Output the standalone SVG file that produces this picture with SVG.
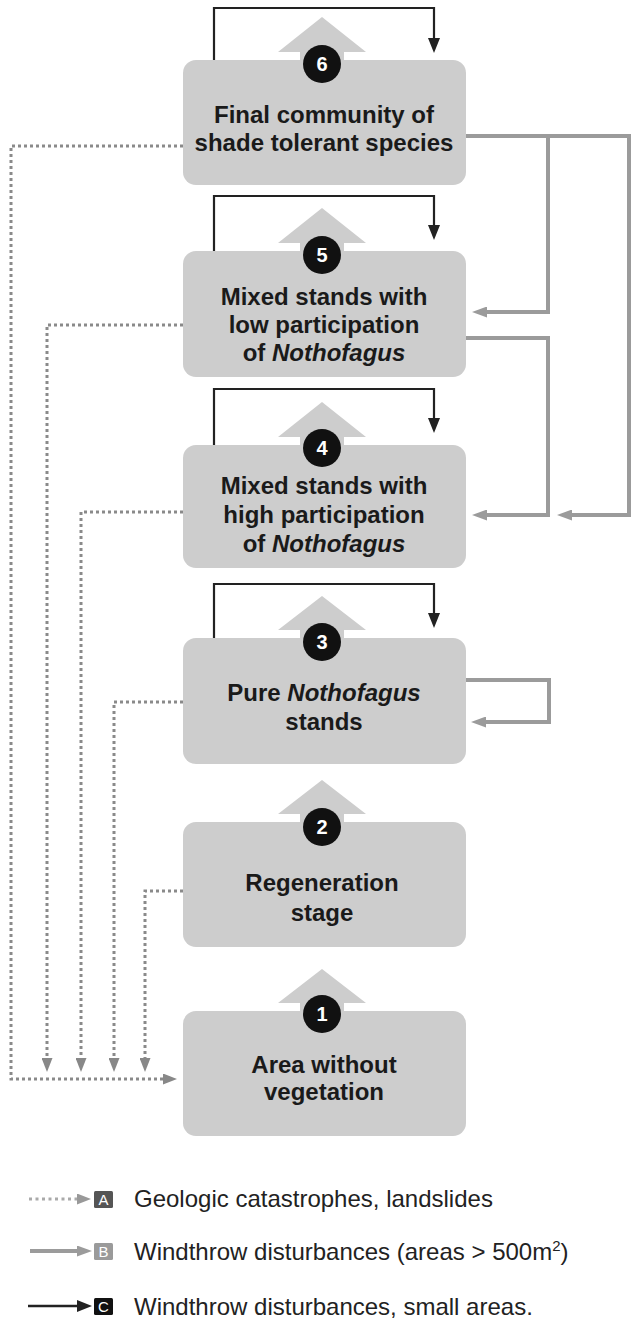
<svg xmlns="http://www.w3.org/2000/svg" width="631" height="1321" viewBox="0 0 631 1321">
<style>
.box{fill:#cdcdcd}
.badge{fill:#111}
.num{font-family:"Liberation Sans",Arial,sans-serif;font-weight:bold;font-size:20px;fill:#fff;text-anchor:middle}
.lbl{font-family:"Liberation Sans",Arial,sans-serif;font-weight:bold;font-size:24px;fill:#1a1a1a;text-anchor:middle}
.it{font-style:italic}
.up{fill:#cdcdcd}
.loop{fill:none;stroke:#222;stroke-width:2.2;marker-end:url(#mBlack)}
.wind{fill:none;stroke:#9b9b9b;stroke-width:4;marker-end:url(#mGray)}
.geo{fill:none;stroke:#8a8a8a;stroke-width:3;stroke-dasharray:3 3;marker-end:url(#mDot)}
.leg{font-family:"Liberation Sans",Arial,sans-serif;font-size:24px;fill:#222}
.key{font-family:"Liberation Sans",Arial,sans-serif;font-size:15px;fill:#fff;text-anchor:middle}
</style>
<defs>
<marker id="mBlack" markerUnits="userSpaceOnUse" markerWidth="15" markerHeight="12" viewBox="0 0 15 12" refX="0" refY="6" orient="auto"><path d="M0,0 L15,6 L0,12 Z" fill="#222"/></marker>
<marker id="mGray" markerUnits="userSpaceOnUse" markerWidth="15" markerHeight="11" viewBox="0 0 15 11" refX="0" refY="5.5" orient="auto"><path d="M0,0 L15,5.5 L0,11 Z" fill="#9b9b9b"/></marker>
<marker id="mDot" markerUnits="userSpaceOnUse" markerWidth="14" markerHeight="11" viewBox="0 0 14 11" refX="0" refY="5.5" orient="auto"><path d="M0,0 L14,5.5 L0,11 Z" fill="#888"/></marker>
<marker id="mDotL" markerUnits="userSpaceOnUse" markerWidth="14" markerHeight="11" viewBox="0 0 14 11" refX="0" refY="5.5" orient="auto"><path d="M0,0 L14,5.5 L0,11 Z" fill="#999"/></marker>
</defs>

<g id="connectors">
  <g id="succession">
    <path class="up" d="M322,17 L366,52 L344,52 L344,62 L300,62 L300,52 L278,52 Z"/>
    <path class="up" d="M322,208 L366,243 L344,243 L344,253 L300,253 L300,243 L278,243 Z"/>
    <path class="up" d="M322,402 L366,437 L344,437 L344,447 L300,447 L300,437 L278,437 Z"/>
    <path class="up" d="M322,596 L366,630 L344,630 L344,640 L300,640 L300,630 L278,630 Z"/>
    <path class="up" d="M322,780 L366,814 L344,814 L344,824 L300,824 L300,814 L278,814 Z"/>
    <path class="up" d="M322,969 L366,1003 L344,1003 L344,1013 L300,1013 L300,1003 L278,1003 Z"/>
  </g>
  <path class="loop" d="M214,60 V8 H434 V38"/>
  <path class="loop" d="M214,251 V196 H434 V225"/>
  <path class="loop" d="M214,445 V389 H434 V418"/>
  <path class="loop" d="M214,638 V584 H434 V613"/>
  <path class="wind" d="M466,136 H629 V515 H572"/>
  <path class="wind" d="M548,136 V312 H487"/>
  <path class="wind" d="M466,338 H548 V515 H487"/>
  <path class="wind" d="M466,680 H549 V722 H486"/>
  <path class="geo" d="M183,146 H11 V1079 H163"/>
  <path class="geo" d="M183,325 H47 V1058"/>
  <path class="geo" d="M183,512 H81 V1058"/>
  <path class="geo" d="M183,702 H114 V1058"/>
  <path class="geo" d="M183,891 H145 V1058"/>
</g>

<g id="node6">
  <rect class="box" x="183" y="60" width="283" height="125" rx="13"/>
  <circle class="badge" cx="322" cy="64" r="19"/>
  <text class="num" x="322" y="71">6</text>
  <text class="lbl" x="324" y="123">Final community of</text>
  <text class="lbl" x="324" y="151">shade tolerant species</text>
</g>

<g id="node5">
  <rect class="box" x="183" y="251" width="283" height="126" rx="13"/>
  <circle class="badge" cx="322" cy="255" r="19"/>
  <text class="num" x="322" y="262">5</text>
  <text class="lbl" x="324" y="305">Mixed stands with</text>
  <text class="lbl" x="324" y="333">low participation</text>
  <text class="lbl" x="324" y="361">of <tspan class="it">Nothofagus</tspan></text>
</g>

<g id="node4">
  <rect class="box" x="183" y="445" width="283" height="123" rx="13"/>
  <circle class="badge" cx="322" cy="448" r="19"/>
  <text class="num" x="322" y="455">4</text>
  <text class="lbl" x="324" y="494">Mixed stands with</text>
  <text class="lbl" x="324" y="523">high participation</text>
  <text class="lbl" x="324" y="552">of <tspan class="it">Nothofagus</tspan></text>
</g>

<g id="node3">
  <rect class="box" x="183" y="638" width="283" height="126" rx="13"/>
  <circle class="badge" cx="322" cy="642" r="19"/>
  <text class="num" x="322" y="649">3</text>
  <text class="lbl" x="324" y="701">Pure <tspan class="it">Nothofagus</tspan></text>
  <text class="lbl" x="324" y="730">stands</text>
</g>

<g id="node2">
  <rect class="box" x="183" y="822" width="283" height="125" rx="13"/>
  <circle class="badge" cx="322" cy="827" r="19"/>
  <text class="num" x="322" y="834">2</text>
  <text class="lbl" x="322" y="891">Regeneration</text>
  <text class="lbl" x="322" y="921">stage</text>
</g>

<g id="node1">
  <rect class="box" x="183" y="1011" width="283" height="125" rx="13"/>
  <circle class="badge" cx="322" cy="1014" r="19"/>
  <text class="num" x="322" y="1021">1</text>
  <text class="lbl" x="324" y="1073">Area without</text>
  <text class="lbl" x="324" y="1100">vegetation</text>
</g>

<g id="legend">
  <path d="M29,1199 H77" fill="none" stroke="#aaa" stroke-width="3" stroke-dasharray="3 3.5" marker-end="url(#mDotL)"/>
  <rect x="94" y="1191" width="19" height="17" rx="1.5" fill="#555"/>
  <text class="key" x="103.5" y="1205">A</text>
  <text class="leg" x="134" y="1207">Geologic catastrophes, landslides</text>

  <path d="M30,1251 H77" fill="none" stroke="#9b9b9b" stroke-width="4" marker-end="url(#mGray)"/>
  <rect x="94" y="1243" width="19" height="17" rx="1.5" fill="#9a9a9a"/>
  <text class="key" x="103.5" y="1257">B</text>
  <text class="leg" x="134" y="1260">Windthrow disturbances (areas &gt; 500m<tspan font-size="15" dy="-9">2</tspan><tspan dy="9">)</tspan></text>

  <path d="M28,1306 H77" fill="none" stroke="#222" stroke-width="2.5" marker-end="url(#mBlack)"/>
  <rect x="94" y="1298" width="19" height="17" rx="1.5" fill="#111"/>
  <text class="key" x="103.5" y="1312">C</text>
  <text class="leg" x="134" y="1315">Windthrow disturbances, small areas.</text>
</g>
</svg>
